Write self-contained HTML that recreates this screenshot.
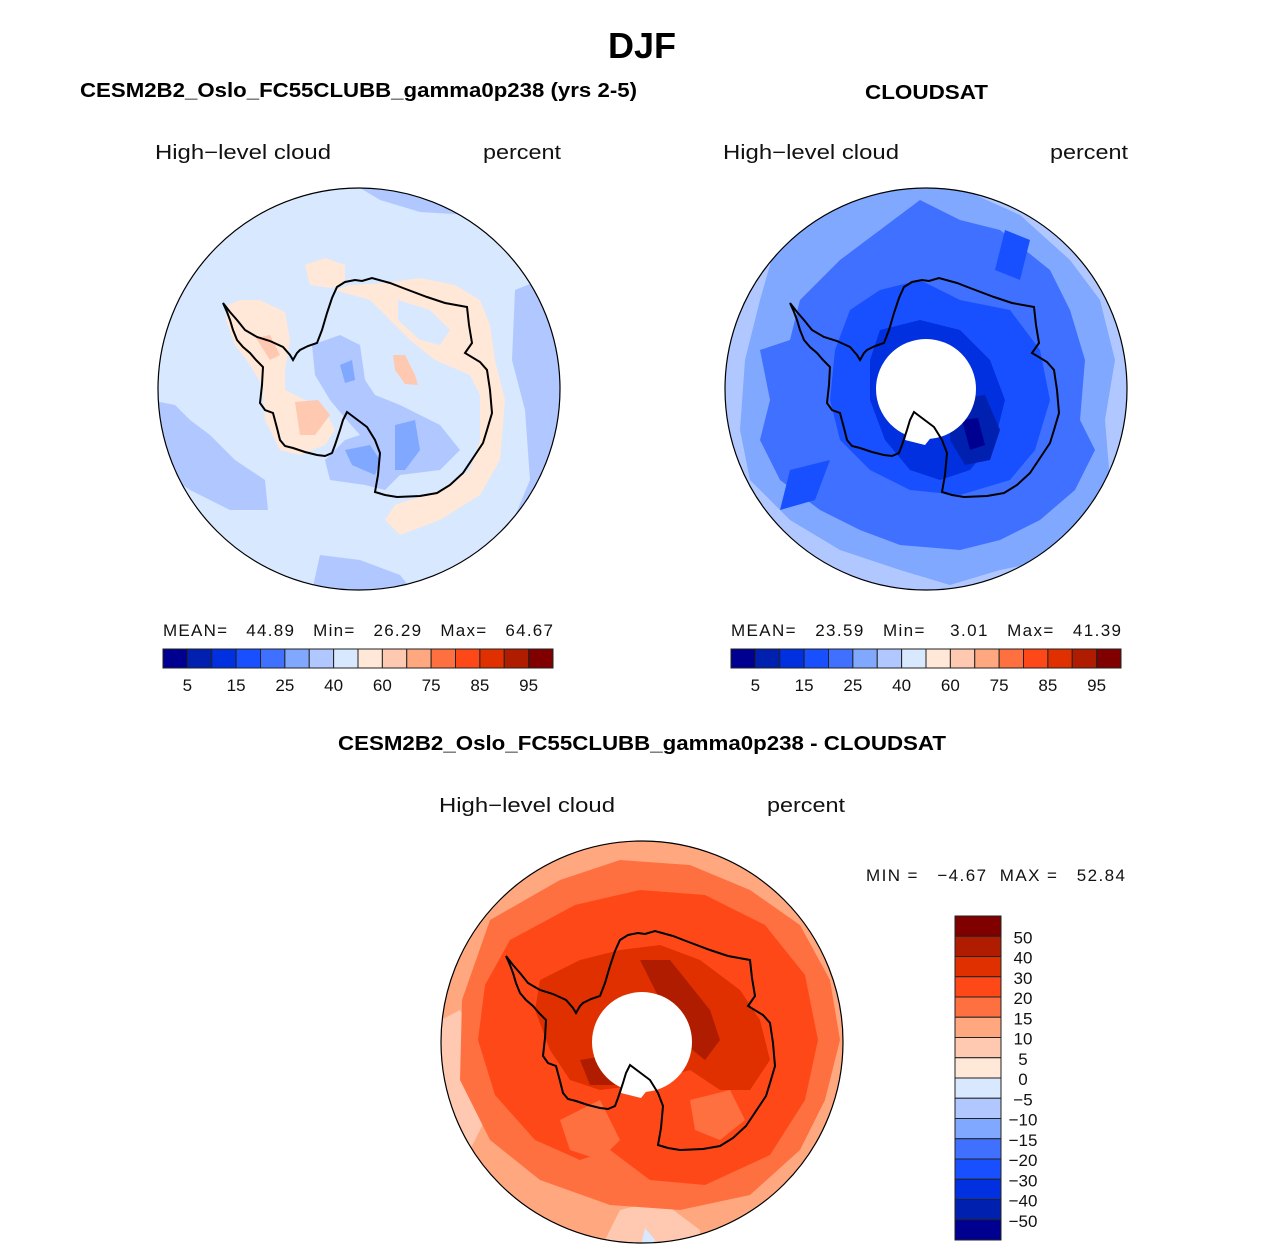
<!DOCTYPE html>
<html><head><meta charset="utf-8"><style>
body{margin:0;background:#fff;}
svg{display:block;font-family:"Liberation Sans",sans-serif;}
</style></head><body>
<svg id="fig" width="1285" height="1250" viewBox="0 0 1285 1250">
<defs>
<clipPath id="c1"><circle cx="359" cy="389" r="201"/></clipPath>
<clipPath id="c2"><circle cx="926" cy="389" r="201"/></clipPath>
<clipPath id="c3"><circle cx="642" cy="1042" r="201"/></clipPath>
<path id="ant" d="M337,287 L345,282 L355,280 L362,281 L372,278 L390,283 L403,288 L427,297 L445,303 L467,307 L469,325 L472,343 L465,353 L480,362 L487,370 L490,390 L492,413 L487,430 L483,443 L473,458 L463,473 L450,485 L437,493 L420,496 L397,497 L385,495 L375,492 L378,475 L380,453 L375,440 L367,427 L355,418 L347,412 L343,420 L340,430 L335,445 L332,453 L325,456 L317,455 L305,452 L293,448 L285,446 L280,440 L277,428 L273,413 L265,410 L260,403 L262,385 L263,367 L256,360 L250,353 L243,347 L237,340 L233,330 L230,320 L227,312 L223,303 L230,312 L237,320 L245,330 L257,337 L270,341 L283,347 L290,355 L293,360 L297,353 L300,350 L308,346 L317,343 L322,330 L327,313 L332,298 Z" fill="none" stroke="#000" stroke-width="2"/>
</defs>

<text x="642" y="58" text-anchor="middle" font-size="36" font-weight="bold">DJF</text>
<text x="80" y="97" font-size="20" font-weight="bold" textLength="557" lengthAdjust="spacingAndGlyphs">CESM2B2_Oslo_FC55CLUBB_gamma0p238 (yrs 2-5)</text>
<text x="865" y="99" font-size="20" font-weight="bold" textLength="123" lengthAdjust="spacingAndGlyphs">CLOUDSAT</text>
<text x="338" y="750" font-size="20" font-weight="bold" textLength="608" lengthAdjust="spacingAndGlyphs">CESM2B2_Oslo_FC55CLUBB_gamma0p238 - CLOUDSAT</text>

<g font-size="20" fill="#111">
<text x="155" y="159" textLength="176" lengthAdjust="spacingAndGlyphs">High−level cloud</text>
<text x="483" y="159" textLength="78" lengthAdjust="spacingAndGlyphs">percent</text>
<text x="723" y="159" textLength="176" lengthAdjust="spacingAndGlyphs">High−level cloud</text>
<text x="1050" y="159" textLength="78" lengthAdjust="spacingAndGlyphs">percent</text>
<text x="439" y="812" textLength="176" lengthAdjust="spacingAndGlyphs">High−level cloud</text>
<text x="767" y="812" textLength="78" lengthAdjust="spacingAndGlyphs">percent</text>
</g>

<!-- Map 1 -->
<g clip-path="url(#c1)">
<rect x="150" y="180" width="420" height="420" fill="#d8e8ff"/>
<path d="M320,190 L360,188 L380,200 L420,212 L470,215 L520,240 L570,280 L570,180 L320,180Z" fill="#b0c8ff"/>
<path d="M515,290 L540,280 L560,300 L570,600 L495,600 L505,540 L530,480 L525,410 L512,360 Z" fill="#b0c8ff"/>
<path d="M150,400 L175,405 L190,420 L210,435 L235,460 L265,480 L268,510 L230,510 L190,490 L160,470 L150,450Z" fill="#b0c8ff"/>
<path d="M320,555 L360,560 L400,575 L420,600 L310,600Z" fill="#b0c8ff"/>
<path d="M312,345 L340,335 L360,345 L365,380 L375,395 L400,405 L440,425 L460,450 L440,470 L400,475 L385,490 L365,485 L330,480 L325,460 L345,440 L360,435 L345,418 L330,400 L315,375 Z" fill="#b0c8ff"/>
<path d="M345,450 L370,445 L380,460 L375,475 L352,465Z" fill="#80a8ff"/>
<path d="M395,425 L415,420 L420,450 L405,470 L395,470Z" fill="#80a8ff"/>
<path d="M340,365 L352,360 L355,380 L345,383Z" fill="#80a8ff"/>
<path d="M228,305 L240,300 L260,300 L285,312 L290,340 L285,370 L285,390 L305,400 L325,410 L335,430 L325,445 L300,455 L280,450 L265,420 L262,385 L250,365 L235,345 L226,320Z" fill="#ffe8d8"/>
<path d="M305,265 L325,258 L345,265 L345,285 L330,288 L310,285Z" fill="#ffe8d8"/>
<path d="M335,290 L370,300 L390,320 L410,340 L435,360 L470,375 L480,395 L480,440 L470,470 L440,490 L395,505 L385,520 L400,535 L440,520 L480,495 L500,460 L505,400 L495,360 L490,325 L480,300 L455,285 L420,278 L385,283 L350,285 Z" fill="#ffe8d8"/>
<path d="M398,300 L430,310 L450,330 L440,345 L420,340 L398,320 Z" fill="#d8e8ff"/>
<path d="M295,402 L318,400 L330,415 L315,435 L300,435 Z" fill="#ffc8b0"/>
<path d="M256,338 L270,335 L280,355 L270,360Z" fill="#ffc8b0"/>
<path d="M393,355 L405,355 L415,375 L418,385 L405,384 L395,370Z" fill="#ffc8b0"/>
</g>
<circle cx="359" cy="389" r="201" fill="none" stroke="#000" stroke-width="1.2"/>
<use href="#ant"/>

<!-- Map 2 -->
<g clip-path="url(#c2)">
<rect x="720" y="180" width="420" height="420" fill="#b0c8ff"/>
<path d="M780,230 L830,205 L880,190 L960,188 L1020,215 L1070,260 L1100,300 L1115,360 L1105,420 L1110,480 L1080,530 L1050,560 L1000,570 L950,585 L900,570 L840,550 L790,520 L750,480 L740,430 L745,360 L760,300 Z" fill="#80a8ff"/>
<path d="M800,300 L840,260 L880,230 L920,200 L960,220 L1000,230 L1050,270 L1070,310 L1085,360 L1080,420 L1095,450 L1075,490 L1040,520 L1000,540 L960,550 L900,545 L860,530 L820,510 L780,480 L760,440 L770,400 L760,350 L790,340 Z" fill="#4070ff"/>
<path d="M850,310 L880,290 L920,280 L960,300 L1010,310 L1040,350 L1050,400 L1035,450 L1010,480 L960,495 L910,490 L870,470 L840,440 L830,400 L835,350 Z" fill="#1850ff"/>
<path d="M880,330 L920,320 L960,330 L990,360 L1005,400 L995,440 L970,470 L940,480 L910,470 L885,440 L870,400 L870,360 Z" fill="#0030e0"/>
<path d="M950,400 L985,395 L1000,430 L990,460 L965,465 L950,440Z" fill="#0020b0"/>
<path d="M962,420 L978,418 L985,445 L970,450Z" fill="#000090"/>
<path d="M790,470 L830,460 L815,500 L780,510Z" fill="#1850ff"/>
<path d="M995,270 L1005,230 L1030,240 L1020,280Z" fill="#1850ff"/>
<circle cx="926" cy="389" r="50" fill="#fff"/>
<path d="M910,420 L917,412 L930,420 L937,430 L925,445 L905,440 Z" fill="#fff"/>
</g>
<circle cx="926" cy="389" r="201" fill="none" stroke="#000" stroke-width="1.2"/>
<use href="#ant" transform="translate(567,0)"/>

<!-- Map 3 -->
<g clip-path="url(#c3)">
<rect x="435" y="835" width="420" height="420" fill="#ffa880"/>
<path d="M441,1020 L460,1010 L480,1050 L490,1110 L470,1150 L441,1130Z" fill="#ffc8b0"/>
<path d="M600,1250 L620,1210 L660,1200 L700,1230 L700,1250Z" fill="#ffc8b0"/>
<path d="M640,1250 L645,1228 L655,1240 L650,1250Z" fill="#d8e8ff"/>
<path d="M490,920 L560,880 L620,860 L690,865 L750,890 L800,925 L830,980 L840,1040 L825,1100 L800,1150 L750,1195 L680,1210 L610,1205 L540,1180 L490,1140 L460,1080 L462,1000 Z" fill="#ff7040"/>
<path d="M510,940 L575,905 L640,890 L705,895 L765,925 L805,975 L818,1040 L805,1100 L770,1155 L705,1185 L650,1180 L610,1150 L580,1160 L535,1140 L495,1095 L478,1040 L485,985 Z" fill="#ff4818"/>
<path d="M560,1120 L600,1100 L620,1140 L600,1160 L570,1150Z" fill="#ff7040"/>
<path d="M690,1100 L730,1090 L745,1120 L720,1140 L695,1130Z" fill="#ff7040"/>
<path d="M540,980 L580,960 L620,950 L660,945 L700,960 L740,990 L760,1020 L770,1060 L750,1090 L720,1090 L690,1070 L640,1085 L600,1090 L570,1080 L550,1050 L535,1010 Z" fill="#e03000"/>
<path d="M640,960 L670,960 L690,985 L710,1010 L720,1040 L705,1060 L680,1040 L660,1000 Z" fill="#b01c00"/>
<path d="M580,1060 L610,1055 L615,1085 L590,1085Z" fill="#b01c00"/>
<circle cx="642" cy="1042" r="50" fill="#fff"/>
<path d="M626,1073 L633,1065 L646,1073 L653,1083 L641,1098 L621,1093 Z" fill="#fff"/>
</g>
<circle cx="642" cy="1042" r="201" fill="none" stroke="#000" stroke-width="1.2"/>
<use href="#ant" transform="translate(283,653)"/>

<g font-size="17" fill="#111">
<text x="163" y="636" textLength="390" lengthAdjust="spacing" xml:space="preserve">MEAN=   44.89   Min=   26.29   Max=   64.67</text>
<text x="731" y="636" textLength="390" lengthAdjust="spacing" xml:space="preserve">MEAN=   23.59   Min=    3.01   Max=   41.39</text>
<text x="866" y="881" textLength="259" lengthAdjust="spacing" xml:space="preserve">MIN =   −4.67  MAX =   52.84</text>
</g>
<g id="bars"></g>
</svg>
<script>
const absColors = ["#000090","#0020b0","#0030e0","#1850ff","#4070ff","#80a8ff","#b0c8ff","#d8e8ff","#ffe8d8","#ffc8b0","#ffa880","#ff7040","#ff4818","#e03000","#b01c00","#800000"];
const absLabels = ["5","15","25","40","60","75","85","95"];
const diffLevels = ["50","40","30","20","15","10","5","0","−5","−10","−15","−20","−30","−40","−50"];
const NS="http://www.w3.org/2000/svg";
const g=document.getElementById('bars');
function mk(t,a){const e=document.createElementNS(NS,t);for(const k in a)e.setAttribute(k,a[k]);g.appendChild(e);return e;}
function hbar(x0,name){
  const w=390/absColors.length;
  absColors.forEach((c,i)=>{
    const r=mk('rect',{x:x0+i*w,y:649,width:w,height:19,fill:c,stroke:'#222','stroke-width':1});
    
    
  });
  absLabels.forEach((l,i)=>{
    const t=mk('text',{x:x0+(2*i+1)*w,y:691,'text-anchor':'middle','font-size':17,fill:'#111'});
    t.textContent=l;
    
    
  });
}
hbar(163,'model');hbar(731,'obs');
const vh=324/(diffLevels.length+1);
const diffColors=absColors.slice().reverse();
diffColors.forEach((c,i)=>{
  const r=mk('rect',{x:955,y:916+i*vh,width:46,height:vh,fill:c,stroke:'#222','stroke-width':1});
  
  
});
diffLevels.forEach((l,i)=>{
  const t=mk('text',{x:1023,y:916+(i+1)*vh+7,'text-anchor':'middle','font-size':17,fill:'#111'});
  t.textContent=l;
  
  
});
</script>
</body></html>
